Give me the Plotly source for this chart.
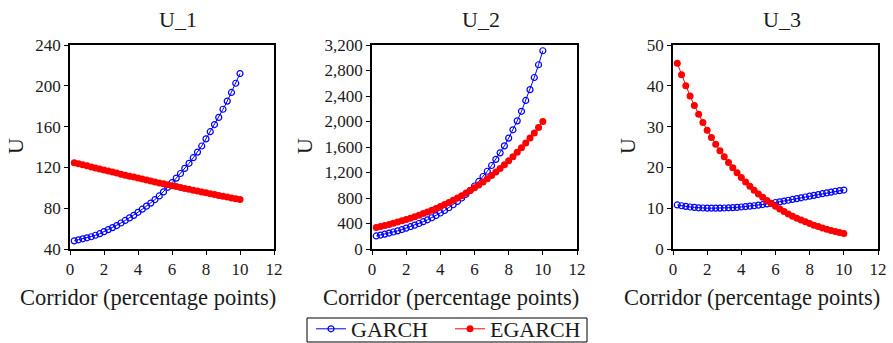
import plotly.graph_objects as go

x_vals = [0.25, 0.5, 0.75, 1.0, 1.25, 1.5, 1.75, 2.0, 2.25, 2.5, 2.75, 3.0, 3.25, 3.5, 3.75, 4.0,
          4.25, 4.5, 4.75, 5.0, 5.25, 5.5, 5.75, 6.0, 6.25, 6.5, 6.75, 7.0, 7.25, 7.5, 7.75, 8.0,
          8.25, 8.5, 8.75, 9.0, 9.25, 9.5, 9.75, 10.0]

u1_garch = [48, 49, 50, 51, 52, 53.5, 55, 57, 59, 61, 63, 65.5, 68, 70.5, 73, 76,
            79, 82, 85, 88.5, 92, 96, 100.5, 105, 109.5, 114, 119, 124, 129.5, 135, 141, 148,
            155, 162, 169, 177, 185, 193.5, 202.5, 212]
u1_egarch = [124.6, 123.6, 122.5, 121.5, 120.4, 119.4, 118.4, 117.4, 116.4, 115.4, 114.4, 113.4,
             112.4, 111.4, 110.5, 109.5, 108.6, 107.6, 106.7, 105.7, 104.8, 103.9, 103.0, 102.1,
             101.2, 100.3, 99.4, 98.5, 97.6, 96.8, 95.9, 95.1, 94.2, 93.4, 92.5, 91.7, 90.9,
             90.1, 89.3, 88.5]

u2_garch = [205, 219, 234, 250, 267, 285, 305, 328, 350, 374, 400, 428, 458, 490, 525, 565,
            604, 647, 694, 746, 800, 858, 921, 988, 1060, 1137, 1220, 1310, 1406, 1508, 1618, 1740,
            1870, 2010, 2160, 2330, 2500, 2690, 2890, 3110]
u2_egarch = [336, 352, 368, 385, 403, 422, 442, 462, 484, 507, 530, 555, 581, 608, 637, 666,
             698, 730, 764, 800, 837, 877, 918, 960, 1005, 1052, 1102, 1153, 1207, 1263, 1322, 1384,
             1449, 1517, 1588, 1662, 1740, 1821, 1906, 2000]

u3_garch = [10.8, 10.6, 10.45, 10.3, 10.2, 10.1, 10.05, 10.0, 10.0, 10.0, 10.02, 10.05, 10.1, 10.15,
            10.2, 10.3, 10.4, 10.5, 10.6, 10.75, 10.9, 11.05, 11.2, 11.4, 11.55, 11.75, 11.95, 12.15,
            12.35, 12.55, 12.75, 12.95, 13.15, 13.35, 13.55, 13.75, 13.95, 14.15, 14.3, 14.45]
u3_egarch = [45.5, 42.7, 40.0, 37.5, 35.2, 33.0, 31.0, 29.1, 27.3, 25.7, 24.1, 22.6, 21.2, 19.9,
             18.7, 17.5, 16.4, 15.4, 14.4, 13.5, 12.7, 11.9, 11.15, 10.45, 9.8, 9.2, 8.6, 8.05,
             7.55, 7.1, 6.65, 6.25, 5.85, 5.5, 5.15, 4.85, 4.55, 4.3, 4.05, 3.8]

panel_titles = ["U_1", "U_2", "U_3"]
series_names = ["GARCH", "EGARCH"]
x_title = "Corridor (percentage points)"
y_title = "U"

panels = [(u1_garch, u1_egarch, [40, 240], 40),
          (u2_garch, u2_egarch, [0, 3200], 400),
          (u3_garch, u3_egarch, [0, 50], 10)]

W, H = 893, 343
x_domains = [(70, 274), (372, 577), (673, 878)]
y_top, y_bot = 45, 249
ytitle_x = [16, 305, 628]

FONT = "'Liberation Serif', 'Times New Roman', 'DejaVu Serif', serif"
TXT = "#1a1a1a"
fig = go.Figure()
layout = dict(width=W, height=H, margin=dict(l=0, r=0, t=0, b=0, autoexpand=False),
              paper_bgcolor="white", plot_bgcolor="white",
              font=dict(family=FONT, size=16, color=TXT),
              showlegend=True)
annotations = []
for i, (g, e, yr, dt) in enumerate(panels):
    n = "" if i == 0 else str(i + 1)
    xa, ya = "x" + n, "y" + n
    fig.add_trace(go.Scatter(x=x_vals, y=g, name=series_names[0], mode="lines+markers",
                             xaxis=xa, yaxis=ya, showlegend=(i == 0),
                             line=dict(color="#0000ff", width=1),
                             marker=dict(symbol="circle-open", size=6, color="#0000ff",
                                         line=dict(width=1.2, color="#0000ff"))))
    fig.add_trace(go.Scatter(x=x_vals, y=e, name=series_names[1], mode="lines+markers",
                             xaxis=xa, yaxis=ya, showlegend=(i == 0),
                             line=dict(color="#ff0000", width=1),
                             marker=dict(symbol="circle", size=7, color="#ff0000")))
    x0, x1 = x_domains[i]
    common = dict(showline=True, linecolor="black", linewidth=1.5, mirror=True,
                  ticks="outside", ticklen=4, tickcolor="black", tickwidth=1,
                  showgrid=False, zeroline=False, automargin=False,
                  tickfont=dict(size=17, family=FONT, color=TXT))
    layout["xaxis" + n] = dict(domain=[x0 / W, x1 / W], range=[0, 12], dtick=2, tick0=0,
                               anchor=ya, ticklabelstandoff=0, **common)
    layout["yaxis" + n] = dict(domain=[1 - y_bot / H, 1 - y_top / H], range=yr, dtick=dt, tick0=0,
                               tickformat=",", anchor=xa, **common)
    cx = (x0 + x1) / 2
    annotations.append(dict(text=panel_titles[i], x=(cx + 6) / W, y=1 - 20 / H, xref="paper", yref="paper",
                            showarrow=False, font=dict(size=22, family=FONT, color=TXT),
                            xanchor="center", yanchor="middle"))
    annotations.append(dict(text=x_title, x=(cx - 24) / W, y=1 - 297 / H, xref="paper", yref="paper",
                            showarrow=False, font=dict(size=22.5, family=FONT, color=TXT),
                            xanchor="center", yanchor="middle"))
    annotations.append(dict(text=y_title, x=ytitle_x[i] / W, y=1 - 146 / H, xref="paper", yref="paper",
                            showarrow=False, textangle=-90,
                            font=dict(size=22, family=FONT, color=TXT),
                            xanchor="center", yanchor="middle"))

layout["annotations"] = annotations
layout["shapes"] = [dict(type="rect", xref="paper", yref="paper",
                         x0=307 / W, x1=587 / W, y0=1 - 342 / H, y1=1 - 318 / H,
                         line=dict(color="black", width=1), fillcolor="rgba(0,0,0,0)")]
layout["legend"] = dict(orientation="h", x=311 / W, xanchor="left", y=1 - 329 / H, yanchor="middle",
                        borderwidth=0, bgcolor="rgba(0,0,0,0)",
                        font=dict(size=22, family=FONT, color=TXT),
                        entrywidth=94, entrywidthmode="pixels",
                        itemwidth=30, tracegroupgap=0)
fig.update_layout(**layout)
fig.write_html("out.html")
